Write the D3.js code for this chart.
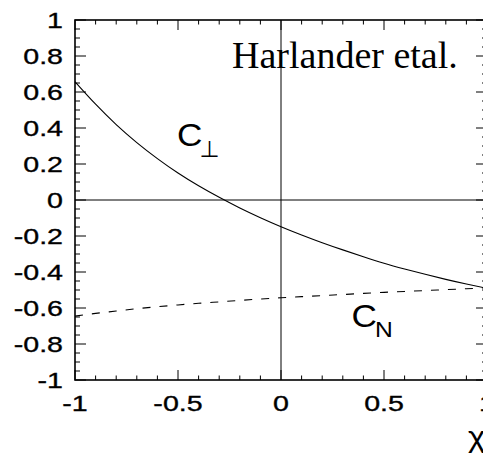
<!DOCTYPE html>
<html>
<head>
<meta charset="utf-8">
<script src="https://cdn.jsdelivr.net/npm/d3@7"></script>
<style>
  html, body { margin: 0; padding: 0; background: #fff; overflow: hidden; }
  svg { display: block; }
</style>
</head>
<body>
<svg id="chart" width="483" height="456"></svg>
<script>
// Sample points along χ
const chi = [-1.0, -0.9, -0.8, -0.7, -0.6, -0.5, -0.4, -0.3, -0.2, -0.1, 0.0,
             0.1, 0.2, 0.3, 0.4, 0.5, 0.6, 0.7, 0.8, 0.9, 1.0];
// C_perp (solid)
const cPerp = [0.657, 0.532, 0.419, 0.319, 0.230, 0.150, 0.079, 0.015, -0.044, -0.098, -0.148,
               -0.194, -0.237, -0.277, -0.315, -0.351, -0.383, -0.413, -0.441, -0.467, -0.491];
// C_N (dashed)
const cN = [-0.645, -0.630, -0.617, -0.604, -0.593, -0.583, -0.574, -0.566, -0.558, -0.550, -0.543,
            -0.537, -0.531, -0.525, -0.519, -0.513, -0.508, -0.503, -0.498, -0.493, -0.488];

const xTickValues = [-1, -0.5, 0, 0.5, 1];
const xTickLabels = ["-1", "-0.5", "0", "0.5", "1"];
const yTickValues = [-1, -0.8, -0.6, -0.4, -0.2, 0, 0.2, 0.4, 0.6, 0.8, 1];
const yTickLabels = ["-1", "-0.8", "-0.6", "-0.4", "-0.2", "0", "0.2", "0.4", "0.6", "0.8", "1"];

const svg = d3.select("#chart");
const x = d3.scaleLinear().domain([-1, 1]).range([75, 487]);
const y = d3.scaleLinear().domain([-1, 1]).range([380, 20]);

const labelFont = "'Liberation Sans', Arial, Helvetica, sans-serif";
const labelSize = 22;
const stretch = 1.3;

// minor / major tick positions
const xMinor = d3.range(-10, 11).map(d => d / 10);
const yMinor = d3.range(-20, 21).map(d => d / 20);
const isMajorX = v => Math.abs(v * 2 - Math.round(v * 2)) < 1e-9;
const isMajorY = v => Math.abs(v * 5 - Math.round(v * 5)) < 1e-9;

const g = svg.append("g");

// zero lines
g.append("line").attr("x1", x(-1)).attr("x2", x(1)).attr("y1", y(0)).attr("y2", y(0))
  .attr("stroke", "#000").attr("stroke-width", 1);
g.append("line").attr("x1", x(0)).attr("x2", x(0)).attr("y1", y(-1)).attr("y2", y(1))
  .attr("stroke", "#000").attr("stroke-width", 1);

// ticks on all four sides
const tickG = g.append("g").attr("stroke", "#000").attr("stroke-width", 1);
xMinor.forEach(v => {
  const len = isMajorX(v) ? 10 : 4.5;
  tickG.append("line").attr("x1", x(v)).attr("x2", x(v)).attr("y1", y(-1)).attr("y2", y(-1) - len);
  tickG.append("line").attr("x1", x(v)).attr("x2", x(v)).attr("y1", y(1)).attr("y2", y(1) + len);
});
yMinor.forEach(v => {
  const len = isMajorY(v) ? 11 : 5;
  tickG.append("line").attr("x1", x(-1)).attr("x2", x(-1) + len).attr("y1", y(v)).attr("y2", y(v));
  tickG.append("line").attr("x1", x(1)).attr("x2", x(1) - len).attr("y1", y(v)).attr("y2", y(v));
});

// frame
g.append("rect").attr("x", x(-1)).attr("y", y(1))
  .attr("width", x(1) - x(-1)).attr("height", y(-1) - y(1))
  .attr("fill", "none").attr("stroke", "#000").attr("stroke-width", 1.6);

// curves
const line = d3.line().x((d, i) => x(chi[i])).y(d => y(d)).curve(d3.curveNatural);
g.append("path").attr("d", line(cPerp)).attr("fill", "none")
  .attr("stroke", "#000").attr("stroke-width", 1.1);
g.append("path").attr("d", line(cN)).attr("fill", "none")
  .attr("stroke", "#000").attr("stroke-width", 1.1).attr("stroke-dasharray", "8,9");

// tick labels
const tickText = (sel) => sel
  .attr("font-family", labelFont).attr("font-size", labelSize)
  .attr("fill", "#000").attr("stroke", "#000").attr("stroke-width", 0.35);

xTickValues.forEach((v, i) => {
  svg.append("text")
    .attr("transform", `translate(${x(v)},411) scale(${stretch},1)`)
    .attr("text-anchor", "middle")
    .call(tickText)
    .text(xTickLabels[i]);
});
yTickValues.forEach((v, i) => {
  svg.append("text")
    .attr("transform", `translate(63,${y(v) + labelSize * 0.358}) scale(${stretch},1)`)
    .attr("text-anchor", "end")
    .call(tickText)
    .text(yTickLabels[i]);
});

// axis title
svg.append("text")
  .attr("transform", "translate(468,447) scale(1.1,1)")
  .attr("font-family", labelFont).attr("font-size", 30)
  .text("χ");

// curve labels
svg.append("text")
  .attr("transform", "translate(177,146) scale(1.1,1)")
  .attr("font-family", labelFont).attr("font-size", 32)
  .text("C");
svg.append("text")
  .attr("x", 199.5).attr("y", 156.8)
  .attr("font-family", "'DejaVu Sans', sans-serif").attr("font-size", 23)
  .text("⊥");

svg.append("text")
  .attr("transform", "translate(351.5,326.5) scale(1.1,1)")
  .attr("font-family", labelFont).attr("font-size", 32)
  .text("C");
svg.append("text")
  .attr("transform", "translate(375,337.3) scale(1.12,1)")
  .attr("font-family", labelFont).attr("font-size", 22)
  .text("N");

// annotation
svg.append("text")
  .attr("x", 232).attr("y", 67.7)
  .attr("font-family", "'Liberation Serif', 'Times New Roman', serif").attr("font-size", 38)
  .text("Harlander etal.");
</script>
</body>
</html>
